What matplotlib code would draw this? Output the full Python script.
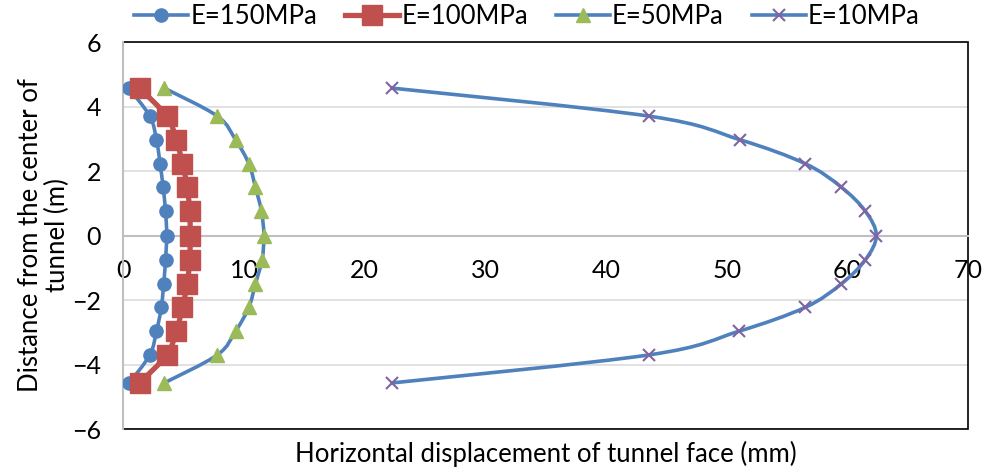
import numpy as np
import matplotlib
matplotlib.use("Agg")
import matplotlib.pyplot as plt
from matplotlib.path import Path
from matplotlib.patches import PathPatch, Rectangle
from matplotlib.lines import Line2D

# Distance from tunnel centre (m) and horizontal displacement (mm) per modulus
depth = [4.57, 3.7, 2.97, 2.23, 1.5, 0.75, 0.0, -0.75, -1.5, -2.23, -2.97, -3.7, -4.57]
disp_e150 = [0.45, 2.2, 2.75, 3.05, 3.3, 3.5, 3.6, 3.5, 3.35, 3.15, 2.75, 2.2, 0.5]
disp_e100 = [1.35, 3.6, 4.4, 4.9, 5.3, 5.5, 5.55, 5.5, 5.3, 4.9, 4.4, 3.6, 1.35]
disp_e50 = [3.4, 7.8, 9.3, 10.4, 10.95, 11.45, 11.65, 11.5, 10.95, 10.4, 9.3, 7.8, 3.4]
disp_e10 = [22.3, 43.6, 51.1, 56.5, 59.5, 61.5, 62.4, 61.5, 59.5, 56.5, 51.0, 43.6, 22.3]
labels = ["E=150MPa", "E=100MPa", "E=50MPa", "E=10MPa"]

BLUE = "#4F81BD"
RED = "#C0504D"
GREEN = "#9BBB59"
PURPLE = "#8064A2"
FS = 18.5

plt.rcParams["font.family"] = "Lato"


def smooth_path(x, y):
    # Excel-style smoothed line: cubic Bezier through every point
    pts = np.column_stack([x, y])
    verts = [pts[0]]
    codes = [Path.MOVETO]
    n = len(pts)
    for i in range(n - 1):
        p0 = pts[i - 1] if i > 0 else pts[i]
        p1, p2 = pts[i], pts[i + 1]
        p3 = pts[i + 2] if i + 2 < n else pts[i + 1]
        c1 = p1 + (p2 - p0) / 6.0
        c2 = p2 - (p3 - p1) / 6.0
        verts += [c1, c2, p2]
        codes += [Path.CURVE4] * 3
    return Path(verts, codes)


def draw_series(ax, x, y, line_color, lw, marker, mcolor, ms, mew=1.0):
    ax.add_patch(PathPatch(smooth_path(x, y), fill=False, edgecolor=line_color,
                           lw=lw, capstyle="round", joinstyle="round", zorder=3))
    ax.plot(x, y, ls="none", marker=marker, color=mcolor, markersize=ms,
            markeredgecolor=mcolor, markeredgewidth=mew, zorder=4)


fig = plt.figure(figsize=(10, 4.7), dpi=100)
ax = fig.add_axes([0.1233, 0.0872, 0.8447, 0.8234])

draw_series(ax, disp_e150, depth, BLUE, 2.6, "o", BLUE, 9.5)
draw_series(ax, disp_e100, depth, RED, 3.8, "s", RED, 14)
draw_series(ax, disp_e50, depth, BLUE, 2.6, "^", GREEN, 10.5)
draw_series(ax, disp_e10, depth, BLUE, 2.6, "x", PURPLE, 8.5, mew=1.5)

ax.set_xlim(0, 70)
ax.set_ylim(-6, 6)
ax.set_xticks(range(0, 71, 10))
ax.set_yticks(range(-6, 7, 2))

ax.set_axisbelow(True)
ax.grid(axis="y", color="#D9D9D9", lw=1.1)
ax.grid(axis="x", visible=False)

for side in ["top", "right"]:
    ax.spines[side].set_visible(False)
ax.spines["bottom"].set_position(("data", 0))
ax.spines["bottom"].set_color("#BFBFBF")
ax.spines["bottom"].set_linewidth(1.5)
ax.spines["left"].set_color("#BFBFBF")
ax.spines["left"].set_linewidth(1.5)
ax.add_patch(Rectangle((0, 0), 1, 1, transform=ax.transAxes, fill=False,
                       edgecolor="black", lw=1.2, clip_on=False, zorder=1))

ax.tick_params(axis="both", length=0, labelsize=FS - 0.5)
ax.tick_params(axis="x", pad=17)
ax.tick_params(axis="y", pad=16)

ax.set_xlabel("Horizontal displacement of tunnel face (mm)", fontsize=FS)
ax.xaxis.set_label_coords(0.5, -0.03, transform=ax.transAxes)
ax.xaxis.label.set_va("top")
fig.text(0.044, 0.5, "Distance from the center of\ntunnel (m)", rotation=90,
         ha="center", va="center", fontsize=FS, linespacing=1.05)

handles = [
    Line2D([], [], color=BLUE, lw=2.6, marker="o", markersize=9.5, markerfacecolor=BLUE, markeredgecolor=BLUE),
    Line2D([], [], color=RED, lw=3.8, marker="s", markersize=14, markerfacecolor=RED, markeredgecolor=RED),
    Line2D([], [], color=BLUE, lw=2.6, marker="^", markersize=10.5, markerfacecolor=GREEN, markeredgecolor=GREEN),
    Line2D([], [], color=BLUE, lw=2.6, marker="x", markersize=8.5, markeredgecolor=PURPLE, markeredgewidth=1.5),
]
fig.legend(handles, labels, loc="center", bbox_to_anchor=(0.527, 0.964), ncol=4,
           frameon=False, fontsize=FS, handlelength=2.1, handletextpad=0.08,
           columnspacing=1.1)

fig.savefig("out.png", dpi=100)
